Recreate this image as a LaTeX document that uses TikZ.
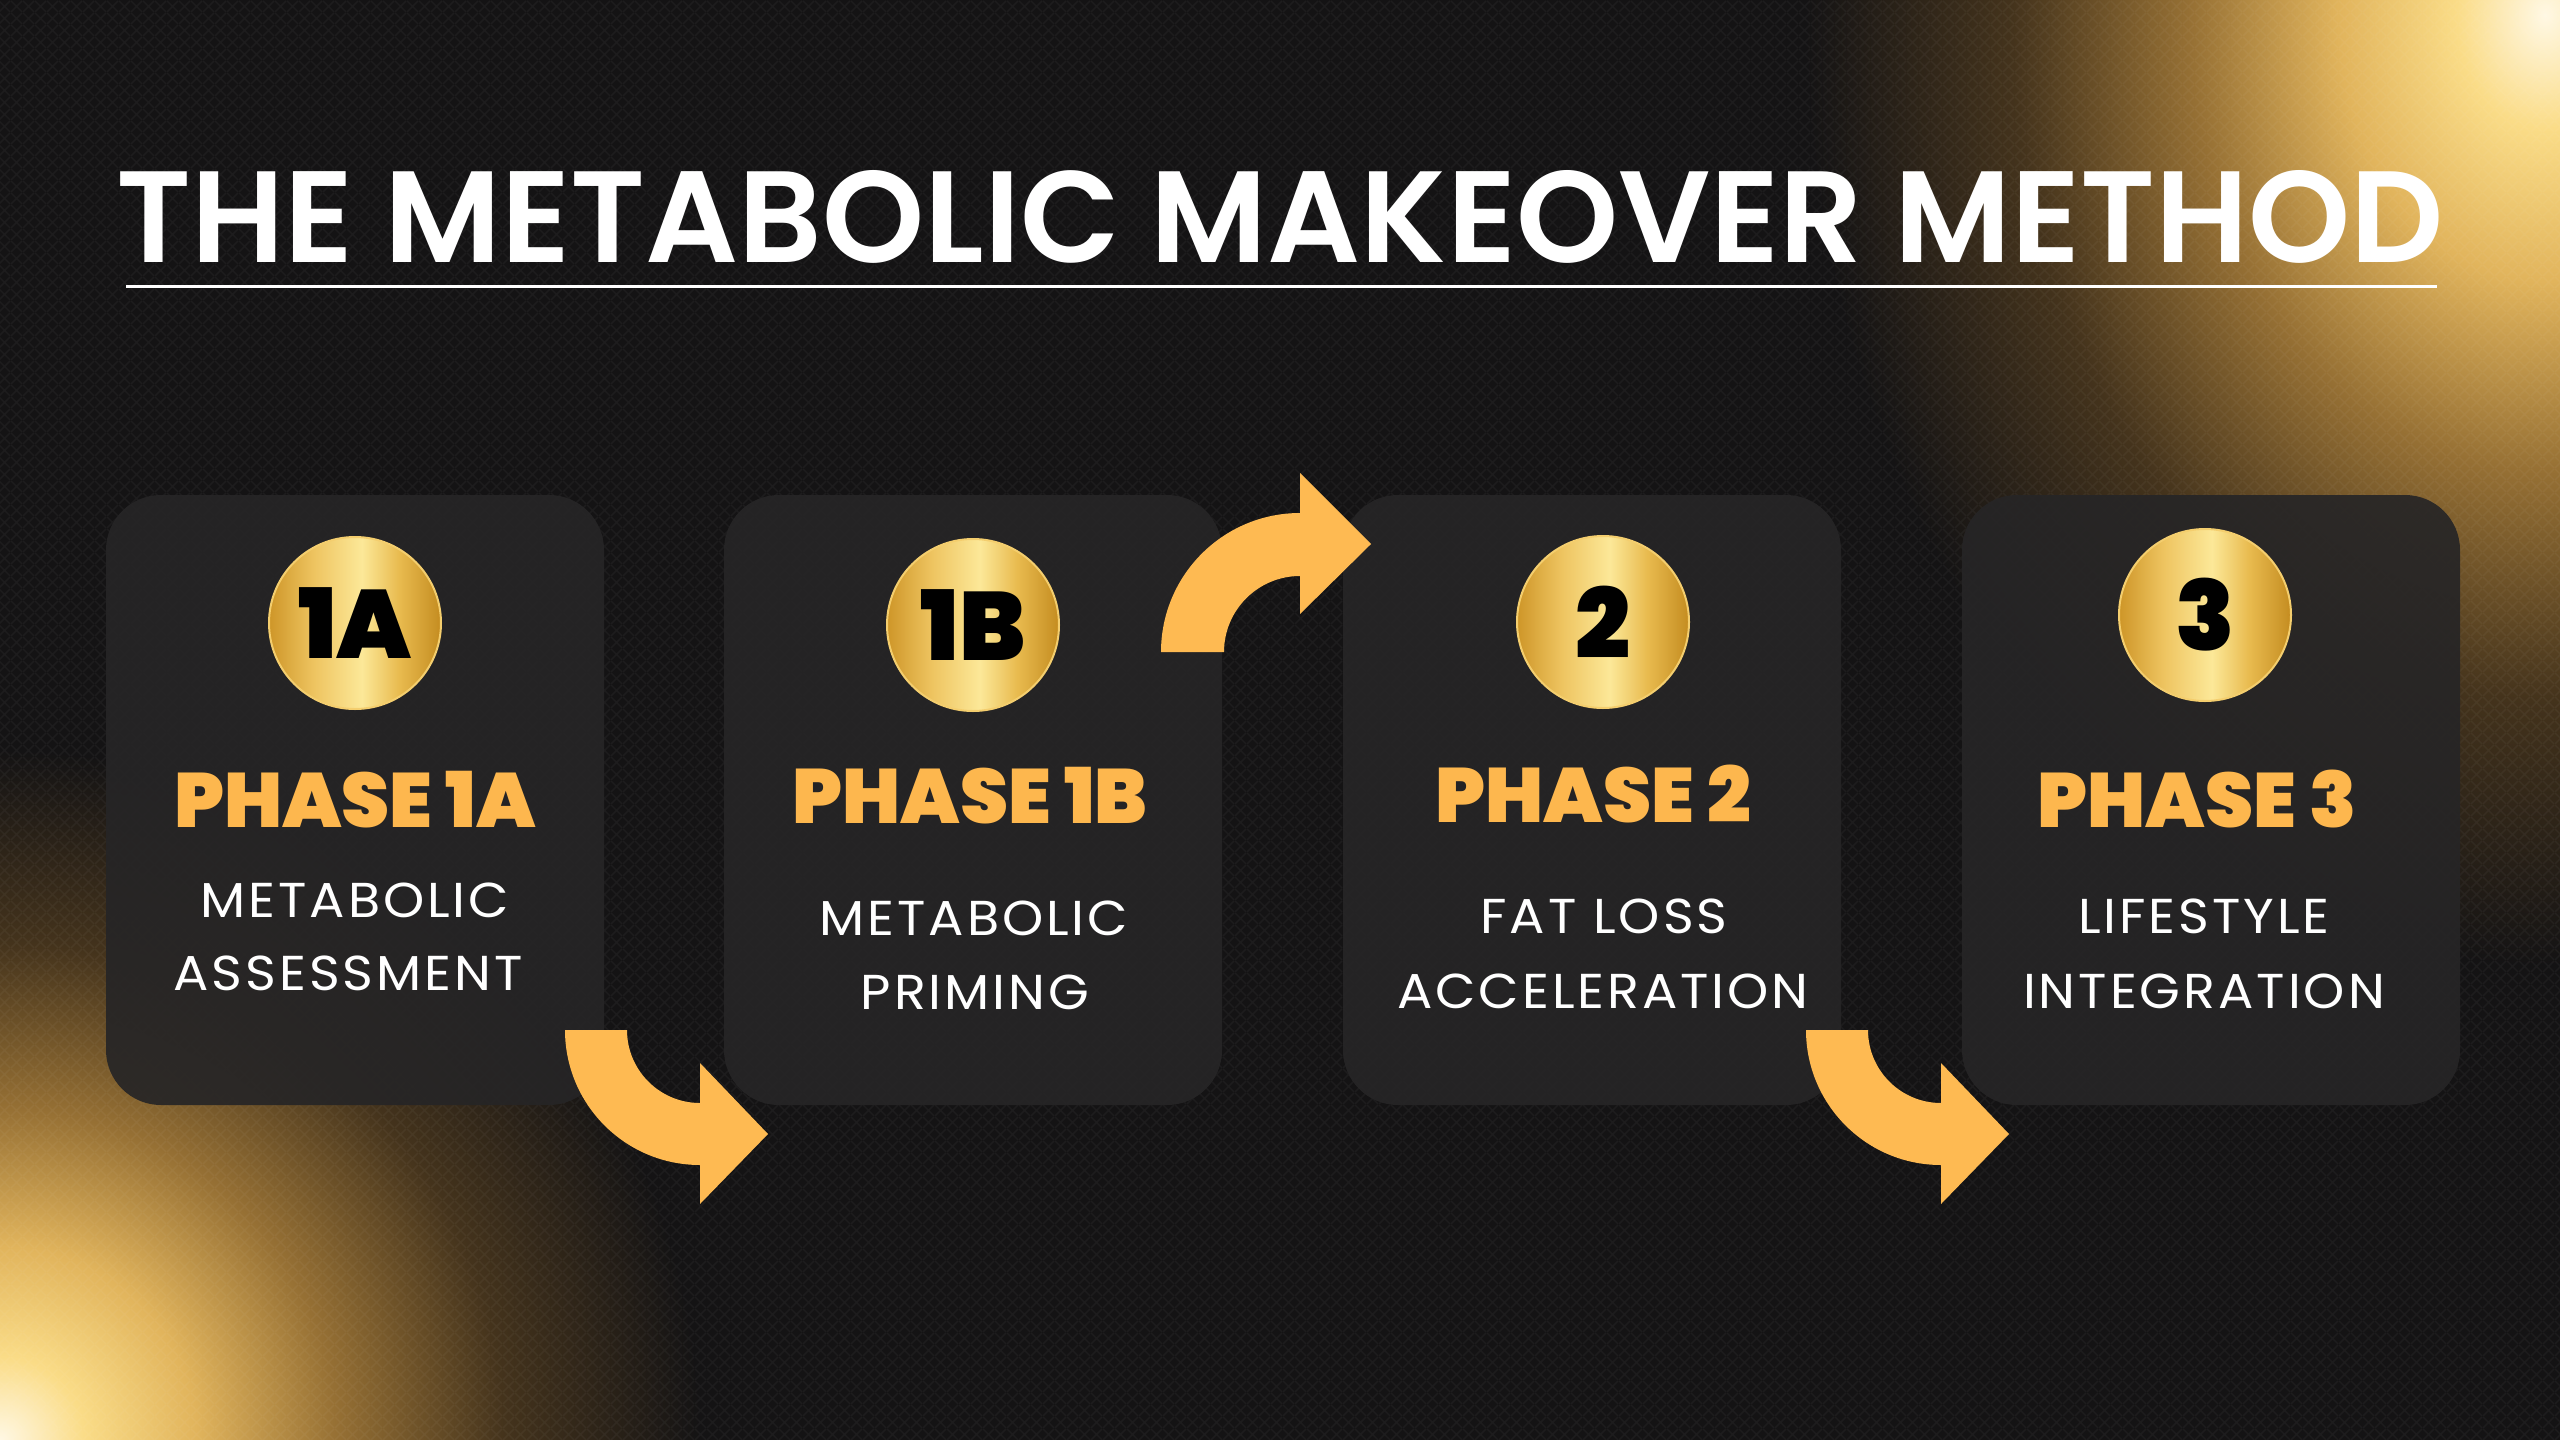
\documentclass[tikz,border=0pt]{standalone}
\usepackage{fontspec}
\setmainfont{Poppins}
\newfontfamily\titlef{Poppins SemiBold}
\newfontfamily\heavyf{Poppins Black}
\newfontfamily\subf{Poppins}[LetterSpace=6, FakeStretch=1.07]
\usetikzlibrary{patterns.meta}

\definecolor{bgc}{RGB}{20,19,20}
\definecolor{cardc}{RGB}{38,37,38}
\definecolor{orangec}{RGB}{253,183,78}
\definecolor{arrowc}{RGB}{254,186,82}
\definecolor{glowA}{RGB}{255,248,228}
\definecolor{glowB}{RGB}{250,220,135}
\definecolor{glowC}{RGB}{225,180,92}
\definecolor{glowD}{RGB}{150,112,52}
\definecolor{glowE}{RGB}{68,51,28}
\definecolor{gdA}{RGB}{206,150,40}
\definecolor{gdB}{RGB}{238,196,96}
\definecolor{gdC}{RGB}{252,232,152}
\definecolor{gdD}{RGB}{232,186,78}
\definecolor{gdE}{RGB}{196,140,32}
\definecolor{rimc}{RGB}{244,206,110}

\pgfdeclareradialshading{glowshade}{\pgfpointorigin}{color(0bp)=(glowA); color(3bp)=(glowB); color(7bp)=(glowC); color(12bp)=(glowD); color(18bp)=(glowE); color(25bp)=(bgc); color(50bp)=(bgc)}
\pgfdeclarehorizontalshading{goldh}{100bp}{color(0bp)=(gdA); color(25bp)=(gdA); color(38bp)=(gdB); color(52bp)=(gdC); color(63bp)=(gdD); color(75bp)=(gdE); color(100bp)=(gdE)}

\tikzdeclarepattern{name=lattice, type=uncolored,
  bounding box={(0pt,0pt) and (12pt,12pt)}, tile size={(12pt,12pt)},
  code={\draw[line width=1.6pt] (0pt,0pt) -- (12pt,12pt) (0pt,12pt) -- (12pt,0pt);}}

\tikzset{
  card/.style={draw=none, fill=cardc, fill opacity=0.92, rounded corners=55pt,
    minimum width=498pt, minimum height=610pt, inner sep=0pt},
  ball/.style={circle, minimum size=172pt, inner sep=0pt, shading=goldh, draw=rimc, line width=2pt},
  numtxt/.style={font=\heavyf\fontsize{97}{100}\selectfont, text=black, inner sep=0pt},
  phasetxt/.style={font=\heavyf\fontsize{77}{80}\selectfont, text=orangec, inner sep=0pt, anchor=base},
  subtxt/.style={font=\subf\fontsize{49}{55}\selectfont, text=white, inner sep=0pt, anchor=base},
  blockarrow/.style={fill=arrowc, draw=none}
}

\begin{document}
\begin{tikzpicture}[x=1pt,y=1pt,yscale=-1]
\useasboundingbox (0,0) rectangle (2560,1440);
% background
\fill[bgc] (0,0) rectangle (2560,1440);
\begin{scope}
\clip (0,0) rectangle (2560,1440);
\shade[shading=glowshade] (2545,15) ellipse[x radius=740pt, y radius=950pt];
\shade[shading=glowshade] (0,1440) ellipse[x radius=700pt, y radius=690pt];
\fill[pattern=lattice, pattern color=white, fill opacity=0.04] (0,0) rectangle (2560,1440);
\end{scope}

% title
\node[font=\titlef\fontsize{130}{140}\selectfont, text=white, anchor=base, inner sep=0pt] (title) at (1280,262) {THE METABOLIC MAKEOVER METHOD};
\draw[white, line width=3pt] (126,286) -- (2437,286);

% cards
\node[card] (c1) at (355,800) {};
\node[card] (c2) at (973,800) {};
\node[card] (c3) at (1592,800) {};
\node[card] (c4) at (2211,800) {};

% balls
\node[ball] (b1) at (355,623) {};
\node[ball] (b2) at (973,625) {};
\node[ball] (b3) at (1603,622) {};
\node[ball] (b4) at (2205,615) {};
\node[numtxt] (n1) at (b1) {1A};
\node[numtxt] (n2) at (b2) {1B};
\node[numtxt] (n3) at (b3) {2};
\node[numtxt] (n4) at (b4) {3};

% phase titles
\node[phasetxt] (p1) at (355,827) {PHASE 1A};
\node[phasetxt] (p2) at (970,823) {PHASE 1B};
\node[phasetxt] (p3) at (1593,822) {PHASE 2};
\node[phasetxt] (p4) at (2197,827) {PHASE 3};

% subtitles
\node[subtxt] (s1a) at (355,917) {METABOLIC};
\node[subtxt] (s1b) at (348,990) {ASSESSMENT};
\node[subtxt] (s2a) at (974,935) {METABOLIC};
\node[subtxt] (s2b) at (975,1009) {PRIMING};
\node[subtxt] (s3a) at (1604,933) {FAT LOSS};
\node[subtxt] (s3b) at (1603,1008) {ACCELERATION};
\node[subtxt] (s4a) at (2204,933) {LIFESTYLE};
\node[subtxt] (s4b) at (2204,1008) {INTEGRATION};

% block arrows
\fill[blockarrow] (565,1030) arc[start angle=180, end angle=90, radius=135pt]
  -- (700,1204) -- (768,1134) -- (700,1063) -- (700,1103)
  arc[start angle=90, end angle=180, radius=73pt] -- cycle;
\fill[blockarrow] (1161,652) arc[start angle=180, end angle=270, radius=139pt]
  -- (1300,473) -- (1371,544) -- (1300,614) -- (1300,576)
  arc[start angle=270, end angle=180, radius=76pt] -- cycle;
\begin{scope}[xshift=1241pt]
\fill[blockarrow] (565,1030) arc[start angle=180, end angle=90, radius=135pt]
  -- (700,1204) -- (768,1134) -- (700,1063) -- (700,1103)
  arc[start angle=90, end angle=180, radius=73pt] -- cycle;
\end{scope}
\end{tikzpicture}
\end{document}
